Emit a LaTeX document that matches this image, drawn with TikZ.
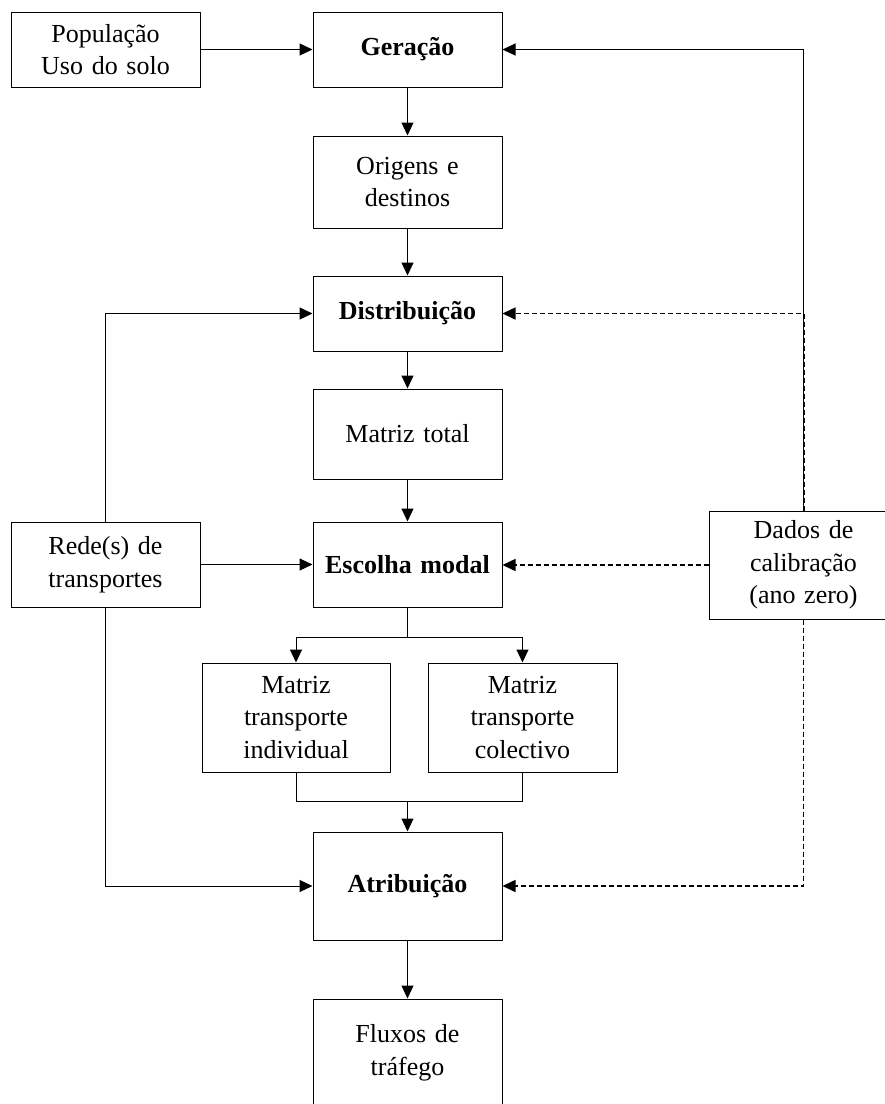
\documentclass[tikz,border=0pt]{standalone}
\usepackage{fontspec}
\setmainfont{Liberation Serif}
\usetikzlibrary{arrows.meta}
\begin{document}
\begin{tikzpicture}[x=1pt,y=1pt,
  box/.style={draw=black, line width=1pt, inner sep=0pt, align=center,
    font=\fontsize{26}{32.5}\selectfont, minimum width=189pt, text width=185pt},
  ln/.style={line width=1pt},
  arr/.style={line width=1pt, -{Triangle[length=13pt,width=12pt]}},
  dsh/.style={line width=1.5pt, dash pattern=on 5pt off 3pt}
]
\useasboundingbox (0,0) rectangle (885,-1104);
\clip (0,0) rectangle (885,-1104);
\node[box, minimum height=75pt] (pop) at (105.5,-49.5) {População\\Uso do solo};
\node[box, minimum height=75pt] (ger) at (407.5,-49.5) {\textbf{Geração}};
\node[box, minimum height=92pt] (orig) at (407.5,-182) {Origens e\\destinos};
\node[box, minimum height=75pt] (dist) at (407.5,-313.5) {\textbf{Distribuição}};
\node[box, minimum height=90pt] (mat) at (407.5,-434) {Matriz total};
\node[box, minimum height=85pt] (esc) at (407.5,-564.5) {\textbf{Escolha modal}};
\node[box, minimum height=85pt] (rede) at (105.5,-564.5) {Rede(s) de\\transportes};
\node[box, minimum height=108pt] (dados) at (803.5,-565) {Dados de\\calibração\\(ano zero)};
\node[box, minimum width=188pt, minimum height=109pt] (ind) at (296,-717.5) {Matriz\\transporte\\individual};
\node[box, minimum height=109pt] (col) at (522.5,-717.5) {Matriz\\transporte\\colectivo};
\node[box, minimum height=108pt] (atr) at (407.5,-886) {\textbf{Atribuição}};
\node[box, minimum height=108pt] (flu) at (407.5,-1053) {Fluxos de\\tráfego};

\draw[arr] (pop.east) -- (ger.west);
\draw[arr] (ger.south) -- (orig.north);
\draw[arr] (orig.south) -- (dist.north);
\draw[arr] (dist.south) -- (mat.north);
\draw[arr] (mat.south) -- (esc.north);

\coordinate (b1) at (407.5,-637);
\draw[ln] (esc.south) -- (b1);
\draw[arr] (b1) -| (ind.north);
\draw[arr] (b1) -| (col.north);
\coordinate (b2) at (407.5,-801);
\draw[ln] (ind.south) |- (b2);
\draw[ln] (col.south) |- (b2);
\draw[arr] (b2) -- (atr.north);
\draw[arr] (atr.south) -- (flu.north);

\draw[arr] (rede.north) |- (dist.west);
\draw[arr] (rede.east) -- (esc.west);
\draw[arr] (rede.south) |- (atr.west);

\draw[arr] (dados.north) |- (ger.east);
\draw[arr, dsh] ([xshift=0.8pt]dados.north) |- (dist.east);
\draw[arr, dsh] (dados.west) -- (dados.west -| esc.east);
\draw[arr, dsh] (dados.south) |- (atr.east);
\end{tikzpicture}
\end{document}
